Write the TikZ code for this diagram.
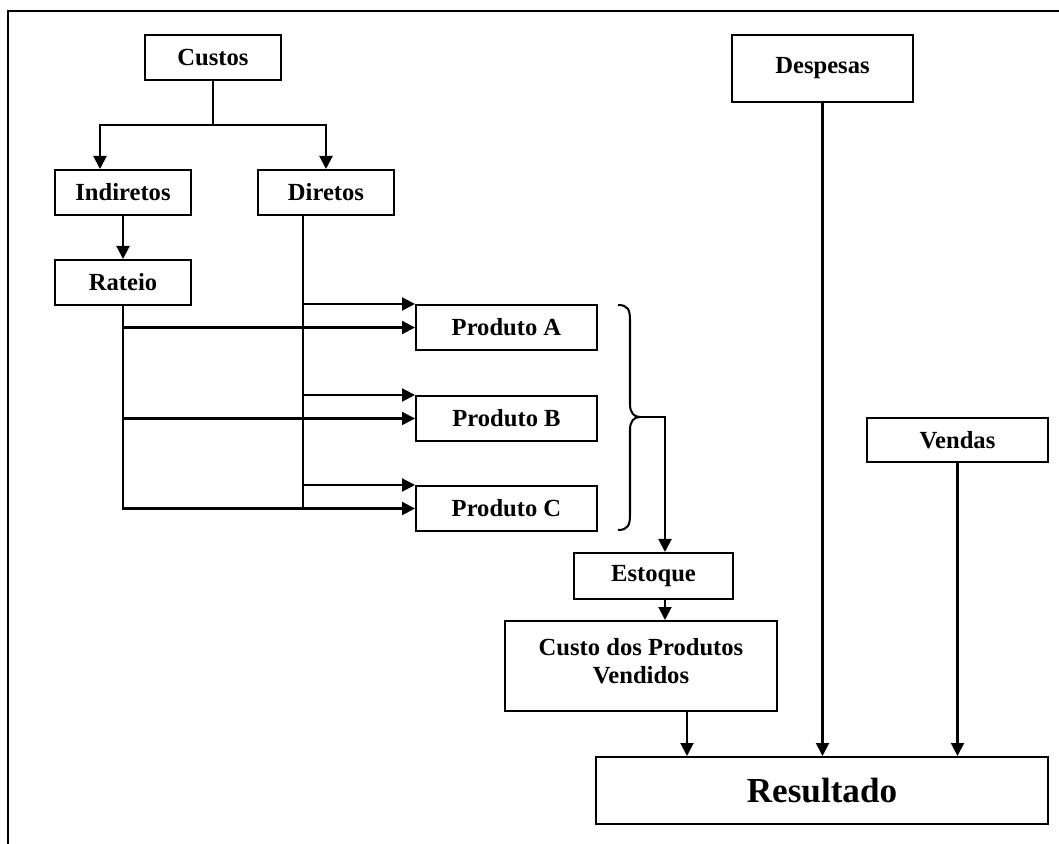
\documentclass[tikz,border=0pt]{standalone}
\usepackage{fontspec}
\setmainfont{Liberation Serif}
\usetikzlibrary{arrows.meta}
\begin{document}
\begin{tikzpicture}[x=0.02cm,y=-0.02cm,
  every path/.style={line width=1.15pt},
  box/.style={draw, rectangle, inner sep=0pt, align=center,
    font=\fontsize{14}{16}\selectfont\bfseries},
  arr/.style={-{Triangle[length=0.26cm,width=0.26cm]}}]
\useasboundingbox (0,0) rectangle (1059,844);

% outer frame
\draw[line width=1.4pt] (8,844) -- (8,11) -- (1062,11);

% boxes
\node[box, minimum width=2.72cm, minimum height=0.9cm] (Custos) at (213,57.5) {Custos};
\node[box, minimum width=2.72cm, minimum height=0.9cm] (Indiretos) at (123,192.5) {Indiretos};
\node[box, minimum width=2.72cm, minimum height=0.9cm] (Diretos) at (326,192.5) {Diretos};
\node[box, minimum width=2.72cm, minimum height=0.9cm] (Rateio) at (123,282.5) {Rateio};
\node[box, minimum width=3.62cm, minimum height=0.9cm] (PA) at (506.5,327.5) {Produto A};
\node[box, minimum width=3.62cm, minimum height=0.9cm] (PB) at (506.5,418.5) {Produto B};
\node[box, minimum width=3.62cm, minimum height=0.9cm] (PC) at (506.5,508.5) {Produto C};
\node[box, minimum width=3.18cm, minimum height=0.92cm] (Estoque) at (653.5,576) {Estoque};
\node[box, minimum width=5.44cm, minimum height=1.8cm] (CPV) at (641,666)
  {Custo dos Produtos\\Vendidos\\[-10pt]\mbox{}};
\node[box, minimum width=9.04cm, minimum height=1.34cm,
  font=\fontsize{20}{24}\selectfont\bfseries] (Res) at (822,790.5) {Resultado};
\node[box, minimum width=3.62cm, minimum height=1.34cm] (Despesas) at (822.5,68.5) {Despesas};
\node[box, minimum width=3.62cm, minimum height=0.88cm] (Vendas) at (957.5,440) {Vendas};

% Custos splits into indirect and direct costs
\coordinate (cs) at (213,125);
\draw (Custos) -- (cs);
\draw[arr] (cs) -| ([xshift=-0.46cm]Indiretos.north);
\draw[arr] (cs) -| (Diretos.north);
\draw[arr] (Indiretos) -- (Rateio);

% allocated (indirect) costs to the products
\draw[arr] (Rateio.south) |- (PC.west);
\draw[arr] (Rateio.south |- PA.west) -- (PA.west);
\draw[arr] (Rateio.south |- PB.west) -- (PB.west);

% direct costs to the products
\coordinate (dx) at ([xshift=-0.46cm]Diretos.south);
\draw (dx) -- (dx |- PC.west);
\draw[arr] (dx |- PA.north west) -- (PA.north west);
\draw[arr] (dx |- PB.north west) -- (PB.north west);
\draw[arr] (dx |- PC.north west) -- (PC.north west);

% brace grouping the products
\coordinate (btip) at (640,417);
\draw (618,305) .. controls (628,305) and (630,310) .. (630,320)
  -- (630,404) .. controls (630,413) and (634,417) .. (btip)
  .. controls (634,417) and (630,421) .. (630,430)
  -- (630,515) .. controls (630,525) and (628,530) .. (618,530);
\draw[arr] (btip) -| ([xshift=0.23cm]Estoque.north);
\draw[arr] ([xshift=0.23cm]Estoque.south) -- ([xshift=0.23cm]Estoque.south |- CPV.north);

% into the result
\draw[arr] ([xshift=0.92cm]CPV.south) -- ([xshift=0.92cm]CPV.south |- Res.north);
\draw[arr] (Despesas) -- (Despesas |- Res.north);
\draw[arr] (Vendas) -- (Vendas |- Res.north);
\end{tikzpicture}
\end{document}
